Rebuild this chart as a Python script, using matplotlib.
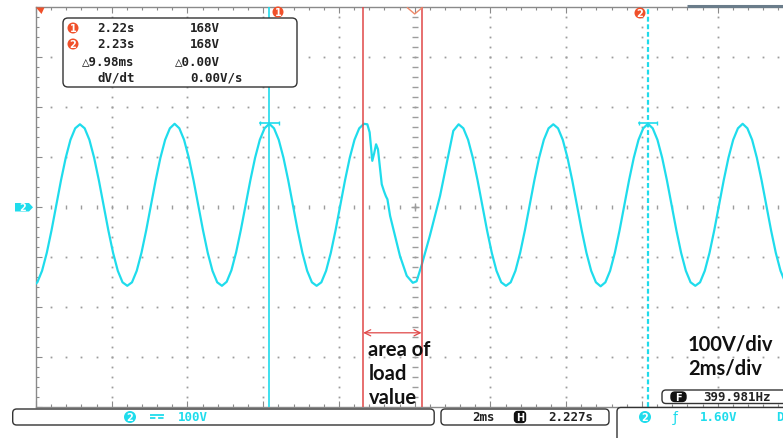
import numpy as np
import matplotlib
matplotlib.use('Agg')
import matplotlib.pyplot as plt
from matplotlib.patches import FancyBboxPatch, Polygon, Circle

# ---------------- data ----------------
# uniformly sampled trace, time in ms, voltage in V
wave_t0_ms = -10.09
wave_dt_ms = 0.125
seg_a_v = [
    -158, -150, -127, -91, -46, 4, 54, 99, 135, 158, 166, 158, 135, 99, 54, 4, -46, -91, -127, -150,
    -157, -150, -127, -91, -46, 4, 54, 99, 135, 158, 167, 158, 135, 99, 54, 4, -46, -91, -127, -150,
    -157, -149, -126, -90, -45, 5, 54, 99, 135, 158, 167, 158, 135, 99, 54, 4, -46, -91, -127, -150,
    -157, -150, -127, -91, -46, 4, 54, 99, 135, 158, 167,
]
# disturbance during the load change (time ms, voltage V)
dist_t = [-1.25, -1.19, -1.15, -1.12, -1.07, -1.02, -0.97, -0.92, -0.87, -0.81, -0.76, -0.72,
          -0.65, -0.52, -0.39, -0.21, -0.05, 0.05, 0.19, 0.40, 0.67, 0.85, 1.02]
dist_v = [166, 150, 118, 93, 108, 126, 116, 80, 46, 32, 22, 16,
          -17, -57, -97, -137, -151, -148, -114, -57, 23, 90, 153]
seg_b_k0 = 90
seg_b_v = [
    166, 158, 135, 99, 54, 4, -46, -91, -127, -150,
    -157, -150, -127, -91, -46, 4, 54, 99, 135, 158, 166, 158, 135, 99, 54, 4, -46, -91, -127, -150,
    -158, -150, -127, -91, -46, 4, 54, 99, 135, 158, 167, 158, 135, 99, 54, 4, -46, -91, -127, -150,
    -157, -150, -127, -91, -46, 4, 54, 99, 135, 158, 167, 158, 135, 99, 54, 4, -46, -91, -127, -150,
]

cursor1_t, cursor2_t = -3.84, 6.16
cursor_v = 168
load_start_t, load_end_t = -1.36, 0.18
arrow_v = -251

info_rows = [("2.22s", "168V"), ("2.23s", "168V")]
delta_t_txt, delta_v_txt = "△9.98ms", "△0.00V"
dvdt_txt = "0.00V/s"
ch_scale_txt = "100V"
timebase_txt, hpos_txt = "2ms", "2.227s"
trig_txt = "1.60V"
freq_txt = "399.981Hz"
note_scale = ["100V/div", "2ms/div"]
note_area = ["area of", "load", "value"]

# ---------------- styling ----------------
CYAN = '#1fdcec'
RED = '#e04848'
ORANGE = '#f0502a'
GRIDC = '#9c9c9c'
BORDER = '#8a8a8a'
MONO = ['DejaVu Sans Mono', 'DejaVu Sans']
W, H = 783, 439

fig = plt.figure(figsize=(W / 100, H / 100), dpi=100)
fig.patch.set_facecolor('white')

L, T, R, B = 36.0, 8.3, 793.4, 408.3
ax = fig.add_axes([L / W, 1 - B / H, (R - L) / W, (B - T) / H])
ax.set_xlim(-10, 10)
ax.set_ylim(-400, 400)
ax.set_facecolor('white')
for s in ['left', 'top', 'bottom']:
    ax.spines[s].set_color(BORDER)
    ax.spines[s].set_linewidth(1.0)
ax.spines['right'].set_visible(False)
ax.set_xticks(np.arange(-10, 10.01, 2))
ax.set_xticks(np.arange(-10, 10.01, 0.4), minor=True)
ax.set_yticks(np.arange(-400, 401, 100))
ax.set_yticks(np.arange(-400, 401, 20), minor=True)
ax.tick_params(which='both', direction='in', color=BORDER, width=0.8,
               top=True, bottom=True, left=True, right=False,
               labelbottom=False, labelleft=False)
ax.tick_params(which='major', length=4.5)
ax.tick_params(which='minor', length=2.5)

# dotted graticule
ys_minor = np.arange(-380, 381, 20)
xs_minor = np.arange(-9.6, 9.61, 0.4)
for xg in [-8, -6, -4, -2, 2, 4, 6, 8]:
    ax.plot(np.full_like(ys_minor, xg, dtype=float), ys_minor, ls='none', marker='s',
            ms=1.3, mew=0, color=GRIDC, zorder=1)
for yg in [-300, -200, -100, 100, 200, 300]:
    ax.plot(xs_minor, np.full_like(xs_minor, yg), ls='none', marker='s',
            ms=1.3, mew=0, color=GRIDC, zorder=1)
# centre axes: tick dashes
ax.plot(np.zeros_like(ys_minor, dtype=float), ys_minor, ls='none', marker='_', ms=4,
        mew=1.0, color=GRIDC, zorder=1)
ax.plot(xs_minor, np.zeros_like(xs_minor), ls='none', marker='|', ms=3,
        mew=1.0, color=GRIDC, zorder=1)
ax.plot([0], [0], marker='+', ms=6, mew=1.0, color=GRIDC, zorder=1)

# trace
ta = wave_t0_ms + wave_dt_ms * np.arange(len(seg_a_v))
tb = wave_t0_ms + wave_dt_ms * (seg_b_k0 + np.arange(len(seg_b_v)))
t_all = np.concatenate([ta, dist_t, tb])
v_all = np.concatenate([seg_a_v, dist_v, seg_b_v])
ax.plot(t_all, v_all, color=CYAN, lw=1.6, zorder=3, solid_joinstyle='round')

# cursors
ax.axvline(cursor1_t, color=CYAN, lw=1.2, zorder=4)
ax.axvline(cursor2_t, color=CYAN, lw=1.6, ls=(0, (2.2, 1.2)), zorder=4)
for ct in (cursor1_t, cursor2_t):
    ax.plot([ct - 0.25, ct + 0.25], [cursor_v, cursor_v], color=CYAN, lw=1.2, zorder=4)
    ax.plot([ct - 0.25, ct + 0.25], [cursor_v, cursor_v], ls='none', marker='|',
            ms=3, mew=1, color=CYAN, zorder=4)

# load-change markers
ax.axvline(load_start_t, color=RED, lw=1.1, zorder=5)
ax.axvline(load_end_t, color=RED, lw=1.1, zorder=5)
ax.annotate('', xy=(load_start_t, arrow_v), xytext=(load_end_t, arrow_v),
            arrowprops=dict(arrowstyle='<->', color=RED, lw=0.9, mutation_scale=11,
                            shrinkA=0, shrinkB=0), zorder=5)

# ---------------- overlay in pixel coordinates ----------------
ov = fig.add_axes([0, 0, 1, 1], zorder=10)
ov.set_xlim(0, W)
ov.set_ylim(H, 0)
ov.axis('off')
ov.patch.set_alpha(0)


def rbox(x, y, w, h, r=5, ec='#333333', fc='white', lw=1.0):
    ov.add_patch(FancyBboxPatch((x, y), w, h, boxstyle=f'round,pad=0,rounding_size={r}',
                                ec=ec, fc=fc, lw=lw, zorder=11))


def badge(x, y, s, fc, r=5.5, fs=7):
    ov.add_patch(Circle((x, y), r, fc=fc, ec='none', zorder=12))
    ov.text(x, y + 0.3, s, color='white', fontsize=fs, fontweight='bold', ha='center',
            va='center', family='DejaVu Sans', zorder=13)


def mono(x, y, s, color='#222222', fs=9, ha='left'):
    ov.text(x, y, s, color=color, fontsize=fs, family=MONO, ha=ha, va='center',
            fontweight='semibold', zorder=13)


# top bar + markers
ov.plot([687, 783], [7.3, 7.3], color='#6a7c8a', lw=2.2, zorder=11, solid_capstyle='butt')
ov.add_patch(Polygon([(36, 8.5), (44.5, 8.5), (41.5, 15)], closed=True, fc=ORANGE, ec='none', zorder=12))
ov.plot([407.5, 414.7, 422], [8.8, 15, 8.8], color='#f08a6a', lw=1.0, zorder=12)
badge(278, 13, '1', ORANGE, r=5.5)
badge(640, 14, '2', ORANGE, r=5.5)

# left channel marker
ov.add_patch(Polygon([(15, 204), (29, 204), (33, 208.3), (29, 212.5), (15, 212.5)],
                     closed=True, fc=CYAN, ec='none', zorder=12))
ov.text(22.5, 208.5, '2', color='white', fontsize=7, fontweight='bold', ha='center',
        va='center', zorder=13)

# cursor info box
rbox(63, 19, 234, 69, r=5)
badge(73, 29, '1', ORANGE)
badge(73, 45, '2', ORANGE)
for i, (ts, vs) in enumerate(info_rows):
    yy = 29 + 16 * i
    mono(97, yy, ts)
    mono(190, yy, vs)
mono(82, 62, delta_t_txt)
mono(175, 62, delta_v_txt)
mono(97, 78, 'dV/dt')
mono(190, 78, dvdt_txt)

# annotations
for i, s in enumerate(note_scale):
    ov.text(688, 345 + 24 * i, s, fontsize=14.5, fontweight='bold', family='Lato',
            color='#111111', va='center', ha='left', zorder=13)
for i, s in enumerate(note_area):
    ov.text(368.5, 350 + 24 * i, s, fontsize=14.5, fontweight='bold', family='Lato',
            color='#111111', va='center', ha='left', zorder=13)

# frequency box
rbox(662, 391, 140, 13.5, r=4)
rbox(671, 393, 15, 9.5, r=4, ec='#111111', fc='#111111')
ov.text(678.5, 397.9, 'F', color='white', fontsize=7, fontweight='bold', ha='center',
        va='center', zorder=13)
mono(703, 398, freq_txt)

# bottom bars
rbox(12.7, 410, 421.5, 16, r=4)
badge(130, 418, '2', CYAN, r=6)
ov.plot([149.5, 164], [416.2, 416.2], color=CYAN, lw=1.3, zorder=12, solid_capstyle='butt')
ov.plot([149.5, 164], [419.4, 419.4], color=CYAN, lw=1.3, ls=(0, (3, 1.5)), zorder=12)
mono(178, 418, ch_scale_txt, color=CYAN)

rbox(441, 410, 168, 16, r=4)
mono(472, 418, timebase_txt)
rbox(514.5, 412.5, 11, 11, r=3, ec='#111111', fc='#111111')
ov.text(520, 418.2, 'H', color='white', fontsize=7, fontweight='bold', ha='center',
        va='center', zorder=13)
mono(548, 418, hpos_txt)

rbox(617, 408.5, 220, 60, r=4)
badge(645, 418, '2', CYAN, r=6)
ov.text(675, 418, 'ƒ', color=CYAN, fontsize=10, family='DejaVu Sans', ha='center',
        va='center', zorder=13)
mono(700, 418, trig_txt, color=CYAN)
mono(776, 418, 'D', color=CYAN)

fig.savefig('out.png', dpi=100, facecolor='white')
